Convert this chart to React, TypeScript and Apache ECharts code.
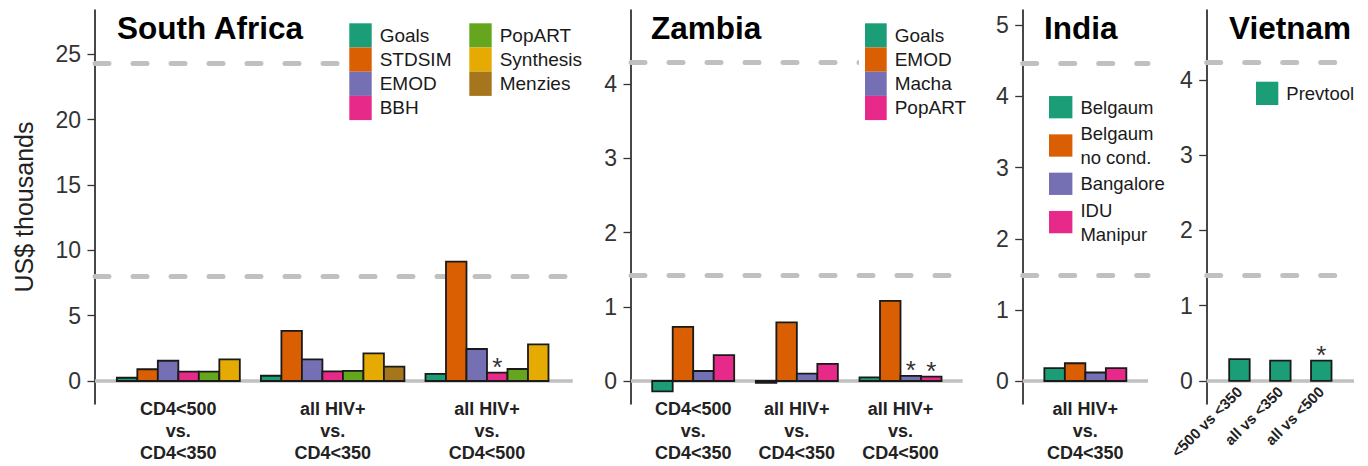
import React, { useEffect, useRef } from "react";
import * as echarts from "echarts";

const FONT = "'Liberation Sans', Arial, Helvetica, sans-serif";

// ---------- categories / tick labels ----------
const comparisonLabels = ["CD4<500\nvs.\nCD4<350", "all HIV+\nvs.\nCD4<350", "all HIV+\nvs.\nCD4<500"];
const indiaLabels = ["all HIV+\nvs.\nCD4<350"];
const vietnamLabels = ["<500 vs <350", "all vs <350", "all vs <500"];

const saTicks = [0, 5, 10, 15, 20, 25];
const zmTicks = [0, 1, 2, 3, 4];
const inTicks = [0, 1, 2, 3, 4, 5];
const vnTicks = [0, 1, 2, 3, 4];

// ---------- South Africa ----------
const saModels = ["Goals", "STDSIM", "EMOD", "BBH", "PopART", "Synthesis", "Menzies"];
const saGoals = [0.25, 0.4, 0.54];
const saSTDSIM = [0.9, 3.83, 9.13];
const saEMOD = [1.55, 1.66, 2.45];
const saBBH = [0.72, 0.74, 0.64];
const saPopART = [0.72, 0.77, 0.92];
const saSynthesis = [1.66, 2.12, 2.81];
const saMenzies = [null, 1.1, null];
const saStars = [["BBH", 3]];
const saThresholds = [8.05, 24.3];

// ---------- Zambia ----------
const zmModels = ["Goals", "EMOD", "Macha", "PopART"];
const zmGoals = [-0.14, -0.025, 0.05];
const zmEMOD = [0.73, 0.79, 1.08];
const zmMacha = [0.135, 0.1, 0.07];
const zmPopART = [0.35, 0.23, 0.06];
const zmStars = [["Macha", 3], ["PopART", 3]];
const zmThresholds = [1.43, 4.29];

// ---------- India ----------
const inModels = ["Belgaum", "Belgaum\nno cond.", "Bangalore", "IDU\nManipur"];
const inBelgaum = [0.18];
const inBelgaumNoCond = [0.25];
const inBangalore = [0.12];
const inIDUManipur = [0.18];
const inStars: [string, number][] = [];
const inThresholds = [1.49, 4.47];

// ---------- Vietnam ----------
const vnModels = ["Prevtool"];
const vnPrevtool = [0.29, 0.27, 0.27];
const vnStars = [["Prevtool", 3]];
const vnThresholds = [1.41, 4.23];

// ---------- colours ----------
const dark2 = ["#1B9E77", "#D95F02", "#7570B3", "#E7298A", "#66A61E", "#E6AB02", "#A6761D"];
const saColors = dark2;
const zmColors = ["#1B9E77", "#D95F02", "#7570B3", "#E7298A"];
const inColors = ["#1B9E77", "#D95F02", "#7570B3", "#E7298A"];
const vnColors = ["#1B9E77"];

type Panel = {
  key: string;
  title: string;
  titleX: number;
  models: string[];
  values: (number | null)[][];
  colors: string[];
  stars: any[];
  thresholds: number[];
  labels: string[];
  ticks: number[];
  grid: { left: number; width: number };
  xRange: [number, number];
  yRange: [number, number];
  labelRotate?: number;
  labelSize: number;
  labelMargin: number;
  legends: { names: string[]; left: number; top: number; w: number; h: number; gap: number; lh: number; size: number }[];
  yName?: string;
};

const panels: Panel[] = [
  {
    key: "ZA",
    title: "South Africa",
    titleX: 117,
    models: saModels,
    values: [saGoals, saSTDSIM, saEMOD, saBBH, saPopART, saSynthesis, saMenzies],
    colors: saColors,
    stars: saStars,
    thresholds: saThresholds,
    labels: comparisonLabels,
    ticks: saTicks,
    grid: { left: 95, width: 477.8 },
    xRange: [0.46, 3.556],
    yRange: [-1.76, 28.39],
    labelSize: 18,
    labelMargin: -5.5,
    legends: [
      { names: ["Goals", "STDSIM", "EMOD", "BBH"], left: 343.3, top: 17.3, w: 22.4, h: 24.2, gap: 0, lh: 24.2, size: 19 },
      { names: ["PopART", "Synthesis", "Menzies"], left: 463.3, top: 17.3, w: 22.4, h: 24.2, gap: 0, lh: 24.2, size: 19 },
    ],
    yName: "US$ thousands",
  },
  {
    key: "ZM",
    title: "Zambia",
    titleX: 651,
    models: zmModels,
    values: [zmGoals, zmEMOD, zmMacha, zmPopART],
    colors: zmColors,
    stars: zmStars,
    thresholds: zmThresholds,
    labels: comparisonLabels,
    ticks: zmTicks,
    grid: { left: 631, width: 331.7 },
    xRange: [0.4, 3.6],
    yRange: [-0.31, 5.0],
    labelSize: 18,
    labelMargin: -5.5,
    legends: [
      { names: zmModels, left: 859, top: 17.3, w: 21.7, h: 24.2, gap: 0, lh: 24.2, size: 19 },
    ],
  },
  {
    key: "IN",
    title: "India",
    titleX: 1044,
    models: inModels,
    values: [inBelgaum, inBelgaumNoCond, inBangalore, inIDUManipur],
    colors: inColors,
    stars: inStars,
    thresholds: inThresholds,
    labels: indiaLabels,
    ticks: inTicks,
    grid: { left: 1022.7, width: 125.3 },
    xRange: [0.4, 1.6],
    yRange: [-0.323, 5.216],
    labelSize: 18,
    labelMargin: -5.5,
    legends: [
      { names: inModels, left: 1043, top: 89.2, w: 23.4, h: 22.3, gap: 2.3, lh: 24, size: 18.5 },
    ],
  },
  {
    key: "VN",
    title: "Vietnam",
    titleX: 1229,
    models: vnModels,
    values: [vnPrevtool],
    colors: vnColors,
    stars: vnStars,
    thresholds: vnThresholds,
    labels: vietnamLabels,
    ticks: vnTicks,
    grid: { left: 1206.7, width: 147.3 },
    xRange: [0.2, 3.8],
    yRange: [-0.306, 4.93],
    labelRotate: 45,
    labelSize: 15,
    labelMargin: -15,
    legends: [
      { names: vnModels, left: 1250, top: 75.7, w: 22.3, h: 23.3, gap: 0, lh: 23.3, size: 18.5 },
    ],
  },
];

const BAR_WIDTH = 20.5;
const GRID_TOP = 10;
const GRID_HEIGHT = 394;

function renderBar(params: any, api: any) {
  const x = api.value(0);
  const v = api.value(1);
  const slot = api.value(2);
  const count = api.value(3);
  const star = api.value(4);
  const base = api.coord([x, 0]);
  const tip = api.coord([x, v]);
  const left = base[0] + (slot - count / 2) * BAR_WIDTH;
  const y0 = Math.min(base[1], tip[1]);
  const h = Math.abs(base[1] - tip[1]);
  const children: any[] = [
    {
      type: "rect",
      shape: { x: left, y: y0, width: BAR_WIDTH, height: h },
      style: { fill: api.visual("color"), stroke: "#1a1a1a", lineWidth: 1.8 },
    },
  ];
  if (star) {
    children.push({
      type: "text",
      x: left + BAR_WIDTH / 2,
      y: y0 - 6,
      style: { text: "*", font: `26px ${FONT}`, align: "center", verticalAlign: "middle", fill: "#333" },
    });
  }
  return { type: "group", children };
}

function buildOption() {
  const grid: any[] = [];
  const xAxis: any[] = [];
  const yAxis: any[] = [];
  const series: any[] = [];
  const legend: any[] = [];
  const graphic: any[] = [];

  panels.forEach((p, idx) => {
    grid.push({
      left: p.grid.left,
      top: GRID_TOP,
      width: p.grid.width,
      height: GRID_HEIGHT,
      containLabel: false,
      outerBoundsMode: "none",
    });
    const labelValues = p.labels.map((_, i) => i + 1);
    xAxis.push({
      type: "value",
      gridIndex: idx,
      min: p.xRange[0],
      max: p.xRange[1],
      position: "bottom",
      axisLine: { show: false, onZero: false },
      axisTick: { show: false },
      splitLine: { show: false },
      axisLabel: {
        customValues: labelValues,
        formatter: (val: number) => p.labels[Math.round(val) - 1] ?? "",
        fontFamily: FONT,
        fontSize: p.labelSize,
        fontWeight: "bold",
        lineHeight: p.labelRotate ? undefined : 21.7,
        color: "#222",
        margin: p.labelMargin,
        rotate: p.labelRotate || 0,
      },
    });
    yAxis.push({
      type: "value",
      gridIndex: idx,
      min: p.yRange[0],
      max: p.yRange[1],
      position: "left",
      splitLine: { show: false },
      axisLine: { show: true, onZero: false, lineStyle: { color: "#1a1a1a", width: 1.6 } },
      axisTick: { show: true, length: 7.5, lineStyle: { color: "#333", width: 1.3 }, customValues: p.ticks },
      axisLabel: { customValues: p.ticks, fontFamily: FONT, fontSize: 23, color: "#333", margin: 14 },
      name: p.yName,
      nameLocation: "middle",
      nameRotate: 90,
      nameGap: 59,
      nameTextStyle: { fontFamily: FONT, fontSize: 25, color: "#222" },
    });

    const nGroups = p.labels.length;
    const present: number[][] = [];
    for (let g = 0; g < nGroups; g++) {
      present.push(p.models.map((_, mi) => mi).filter((mi) => p.values[mi][g] != null));
    }

    p.models.forEach((m, mi) => {
      const data: any[] = [];
      p.values[mi].forEach((v, g) => {
        if (v == null) return;
        const starred = p.stars.some((s: any) => s[0] === m && s[1] === g + 1) ? 1 : 0;
        data.push([g + 1, v, present[g].indexOf(mi), present[g].length, starred]);
      });
      const s: any = {
        type: "custom",
        name: `${p.key}|${m}`,
        xAxisIndex: idx,
        yAxisIndex: idx,
        coordinateSystem: "cartesian2d",
        itemStyle: { color: p.colors[mi] },
        encode: { x: 0, y: 1 },
        renderItem: renderBar,
        data,
        z: 3,
        silent: true,
      };
      if (mi === 0) {
        s.markLine = {
          silent: true,
          symbol: "none",
          z: 1,
          label: { show: false },
          emphasis: { disabled: true },
          data: [
            { yAxis: 0, lineStyle: { type: "solid", width: 3.5, color: "#c0c0c0", cap: "butt" } },
            ...p.thresholds.map((t) => ({
              yAxis: t,
              lineStyle: { type: [14, 24], width: 5, color: "#c0c0c0", cap: "round" },
            })),
          ],
        };
      }
      series.push(s);
    });

    p.legends.forEach((lg) => {
      legend.push({
        orient: "vertical",
        left: lg.left,
        top: lg.top,
        padding: 6,
        itemWidth: lg.w,
        itemHeight: lg.h,
        itemGap: lg.gap,
        icon: "rect",
        selectedMode: false,
        backgroundColor: "#ffffff",
        data: lg.names.map((n) => `${p.key}|${n}`),
        formatter: (name: string) => name.split("|")[1],
        itemStyle: { borderWidth: 0 },
        textStyle: {
          fontFamily: FONT,
          fontSize: lg.size,
          lineHeight: lg.lh,
          color: "#1a1a1a",
          padding: [0, 0, 0, 3],
        },
      });
    });

    graphic.push({
      type: "text",
      x: p.titleX,
      y: 27.5,
      z: 10,
      style: {
        text: p.title,
        font: `bold 31.5px ${FONT}`,
        fill: "#000",
        align: "left",
        verticalAlign: "middle",
      },
    });
  });

  return {
    animation: false,
    backgroundColor: "#ffffff",
    grid,
    xAxis,
    yAxis,
    series,
    legend,
    graphic,
  };
}

export default function App() {
  const ref = useRef<HTMLDivElement>(null);
  useEffect(() => {
    if (!ref.current) return;
    const chart = echarts.init(ref.current, null, { renderer: "svg" });
    chart.setOption(buildOption() as any);
    return () => {
      chart.dispose();
    };
  }, []);
  return (
    <div
      ref={ref}
      style={{ position: "absolute", left: 0, top: 0, width: 1368, height: 466, background: "#fff" }}
    />
  );
}
